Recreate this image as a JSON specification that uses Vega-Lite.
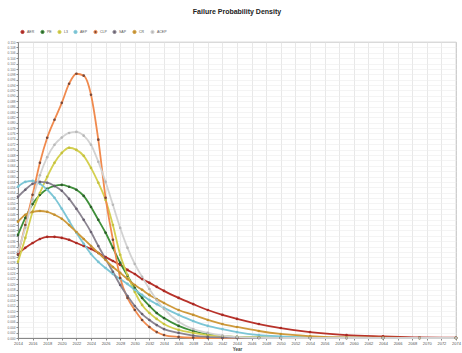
{
"$schema":"https://vega.github.io/schema/vega-lite/v6.json",
"width":438,"height":296,
"autosize":{"type":"none"},
"padding":{"left":18,"top":42,"right":6,"bottom":15},
"background":"#ffffff",
"title":{"text":"Failure Probability Density","fontSize":7,"font":"Liberation Sans","fontWeight":"bold","anchor":"middle","color":"#222222","offset":14},
"data":{"values":[
{"s":"AER","x":2014,"v":0.0312},{"s":"AER","x":2015,"v":0.0335},{"s":"AER","x":2016,"v":0.0353},{"s":"AER","x":2017,"v":0.0368},{"s":"AER","x":2018,"v":0.0376},{"s":"AER","x":2019,"v":0.0376},{"s":"AER","x":2020,"v":0.0372},{"s":"AER","x":2021,"v":0.0365},{"s":"AER","x":2022,"v":0.0353},{"s":"AER","x":2023,"v":0.0342},{"s":"AER","x":2024,"v":0.0331},{"s":"AER","x":2025,"v":0.0316},{"s":"AER","x":2026,"v":0.0301},{"s":"AER","x":2027,"v":0.0286},{"s":"AER","x":2028,"v":0.0272},{"s":"AER","x":2029,"v":0.0253},{"s":"AER","x":2030,"v":0.0238},{"s":"AER","x":2031,"v":0.0219},{"s":"AER","x":2032,"v":0.0205},{"s":"AER","x":2033,"v":0.0190},{"s":"AER","x":2034,"v":0.0175},{"s":"AER","x":2036,"v":0.0149},{"s":"AER","x":2038,"v":0.0126},{"s":"AER","x":2040,"v":0.0104},{"s":"AER","x":2042,"v":0.0086},{"s":"AER","x":2044,"v":0.0071},{"s":"AER","x":2047,"v":0.0052},{"s":"AER","x":2050,"v":0.0037},{"s":"AER","x":2054,"v":0.0022},{"s":"AER","x":2059,"v":0.0011},{"s":"AER","x":2064,"v":0.0006},{"s":"AER","x":2069,"v":0.0002},{"s":"AER","x":2074,"v":0.0001},
{"s":"PE","x":2014,"v":0.0383},{"s":"PE","x":2015,"v":0.0446},{"s":"PE","x":2016,"v":0.0498},{"s":"PE","x":2017,"v":0.0532},{"s":"PE","x":2018,"v":0.0554},{"s":"PE","x":2019,"v":0.0565},{"s":"PE","x":2020,"v":0.0569},{"s":"PE","x":2021,"v":0.0562},{"s":"PE","x":2022,"v":0.0551},{"s":"PE","x":2023,"v":0.0528},{"s":"PE","x":2024,"v":0.0487},{"s":"PE","x":2025,"v":0.0439},{"s":"PE","x":2026,"v":0.0391},{"s":"PE","x":2027,"v":0.0335},{"s":"PE","x":2028,"v":0.0279},{"s":"PE","x":2029,"v":0.0231},{"s":"PE","x":2030,"v":0.0186},{"s":"PE","x":2031,"v":0.0149},{"s":"PE","x":2032,"v":0.0119},{"s":"PE","x":2033,"v":0.0093},{"s":"PE","x":2034,"v":0.0074},{"s":"PE","x":2036,"v":0.0045},{"s":"PE","x":2038,"v":0.0026},{"s":"PE","x":2040,"v":0.0015},{"s":"PE","x":2042,"v":0.0007},{"s":"PE","x":2044,"v":0.0004},{"s":"PE","x":2047,"v":0.0002},{"s":"PE","x":2050,"v":0.0001},{"s":"PE","x":2054,"v":0.0001},{"s":"PE","x":2059,"v":0},{"s":"PE","x":2064,"v":0},{"s":"PE","x":2069,"v":0},{"s":"PE","x":2074,"v":0},
{"s":"L3","x":2014,"v":0.0283},{"s":"L3","x":2015,"v":0.0372},{"s":"L3","x":2016,"v":0.0469},{"s":"L3","x":2017,"v":0.0539},{"s":"L3","x":2018,"v":0.0599},{"s":"L3","x":2019,"v":0.0651},{"s":"L3","x":2020,"v":0.0688},{"s":"L3","x":2021,"v":0.0707},{"s":"L3","x":2022,"v":0.0699},{"s":"L3","x":2023,"v":0.0677},{"s":"L3","x":2024,"v":0.0632},{"s":"L3","x":2025,"v":0.0577},{"s":"L3","x":2026,"v":0.0513},{"s":"L3","x":2027,"v":0.0420},{"s":"L3","x":2028,"v":0.0309},{"s":"L3","x":2029,"v":0.0234},{"s":"L3","x":2030,"v":0.0171},{"s":"L3","x":2031,"v":0.0123},{"s":"L3","x":2032,"v":0.0093},{"s":"L3","x":2033,"v":0.0071},{"s":"L3","x":2034,"v":0.0052},{"s":"L3","x":2036,"v":0.0030},{"s":"L3","x":2038,"v":0.0019},{"s":"L3","x":2040,"v":0.0011},{"s":"L3","x":2042,"v":0.0007},{"s":"L3","x":2044,"v":0.0004},{"s":"L3","x":2047,"v":0.0002},{"s":"L3","x":2050,"v":0.0001},{"s":"L3","x":2054,"v":0.0001},{"s":"L3","x":2059,"v":0},{"s":"L3","x":2064,"v":0},{"s":"L3","x":2069,"v":0},{"s":"L3","x":2074,"v":0},
{"s":"AEP","x":2014,"v":0.0562},{"s":"AEP","x":2015,"v":0.0580},{"s":"AEP","x":2016,"v":0.0584},{"s":"AEP","x":2017,"v":0.0573},{"s":"AEP","x":2018,"v":0.0551},{"s":"AEP","x":2019,"v":0.0521},{"s":"AEP","x":2020,"v":0.0480},{"s":"AEP","x":2021,"v":0.0435},{"s":"AEP","x":2022,"v":0.0391},{"s":"AEP","x":2023,"v":0.0350},{"s":"AEP","x":2024,"v":0.0312},{"s":"AEP","x":2025,"v":0.0283},{"s":"AEP","x":2026,"v":0.0260},{"s":"AEP","x":2027,"v":0.0238},{"s":"AEP","x":2028,"v":0.0219},{"s":"AEP","x":2029,"v":0.0201},{"s":"AEP","x":2030,"v":0.0179},{"s":"AEP","x":2031,"v":0.0160},{"s":"AEP","x":2032,"v":0.0141},{"s":"AEP","x":2033,"v":0.0126},{"s":"AEP","x":2034,"v":0.0112},{"s":"AEP","x":2036,"v":0.0086},{"s":"AEP","x":2038,"v":0.0063},{"s":"AEP","x":2040,"v":0.0045},{"s":"AEP","x":2042,"v":0.0033},{"s":"AEP","x":2044,"v":0.0022},{"s":"AEP","x":2047,"v":0.0011},{"s":"AEP","x":2050,"v":0.0006},{"s":"AEP","x":2054,"v":0.0002},{"s":"AEP","x":2059,"v":0.0001},{"s":"AEP","x":2064,"v":0},{"s":"AEP","x":2069,"v":0},{"s":"AEP","x":2074,"v":0},
{"s":"CLP","x":2014,"v":0.0309},{"s":"CLP","x":2015,"v":0.0420},{"s":"CLP","x":2016,"v":0.0532},{"s":"CLP","x":2017,"v":0.0651},{"s":"CLP","x":2018,"v":0.0744},{"s":"CLP","x":2019,"v":0.0811},{"s":"CLP","x":2020,"v":0.0874},{"s":"CLP","x":2021,"v":0.0945},{"s":"CLP","x":2022,"v":0.0982},{"s":"CLP","x":2023,"v":0.0975},{"s":"CLP","x":2024,"v":0.0904},{"s":"CLP","x":2025,"v":0.0737},{"s":"CLP","x":2026,"v":0.0521},{"s":"CLP","x":2027,"v":0.0365},{"s":"CLP","x":2028,"v":0.0223},{"s":"CLP","x":2029,"v":0.0149},{"s":"CLP","x":2030,"v":0.0104},{"s":"CLP","x":2031,"v":0.0067},{"s":"CLP","x":2032,"v":0.0041},{"s":"CLP","x":2033,"v":0.0022},{"s":"CLP","x":2034,"v":0.0011},{"s":"CLP","x":2036,"v":0.0004},{"s":"CLP","x":2038,"v":0.0001},{"s":"CLP","x":2040,"v":0},{"s":"CLP","x":2042,"v":0},{"s":"CLP","x":2044,"v":0},{"s":"CLP","x":2047,"v":0},{"s":"CLP","x":2050,"v":0},{"s":"CLP","x":2054,"v":0},{"s":"CLP","x":2059,"v":0},{"s":"CLP","x":2064,"v":0},{"s":"CLP","x":2069,"v":0},{"s":"CLP","x":2074,"v":0},
{"s":"SAP","x":2014,"v":0.0525},{"s":"SAP","x":2015,"v":0.0551},{"s":"SAP","x":2016,"v":0.0573},{"s":"SAP","x":2017,"v":0.0580},{"s":"SAP","x":2018,"v":0.0577},{"s":"SAP","x":2019,"v":0.0565},{"s":"SAP","x":2020,"v":0.0547},{"s":"SAP","x":2021,"v":0.0517},{"s":"SAP","x":2022,"v":0.0480},{"s":"SAP","x":2023,"v":0.0439},{"s":"SAP","x":2024,"v":0.0394},{"s":"SAP","x":2025,"v":0.0342},{"s":"SAP","x":2026,"v":0.0294},{"s":"SAP","x":2027,"v":0.0246},{"s":"SAP","x":2028,"v":0.0197},{"s":"SAP","x":2029,"v":0.0156},{"s":"SAP","x":2030,"v":0.0119},{"s":"SAP","x":2031,"v":0.0089},{"s":"SAP","x":2032,"v":0.0067},{"s":"SAP","x":2033,"v":0.0048},{"s":"SAP","x":2034,"v":0.0033},{"s":"SAP","x":2036,"v":0.0019},{"s":"SAP","x":2038,"v":0.0009},{"s":"SAP","x":2040,"v":0.0004},{"s":"SAP","x":2042,"v":0.0002},{"s":"SAP","x":2044,"v":0.0001},{"s":"SAP","x":2047,"v":0},{"s":"SAP","x":2050,"v":0},{"s":"SAP","x":2054,"v":0},{"s":"SAP","x":2059,"v":0},{"s":"SAP","x":2064,"v":0},{"s":"SAP","x":2069,"v":0},{"s":"SAP","x":2074,"v":0},
{"s":"CR","x":2014,"v":0.0432},{"s":"CR","x":2015,"v":0.0458},{"s":"CR","x":2016,"v":0.0469},{"s":"CR","x":2017,"v":0.0472},{"s":"CR","x":2018,"v":0.0469},{"s":"CR","x":2019,"v":0.0458},{"s":"CR","x":2020,"v":0.0443},{"s":"CR","x":2021,"v":0.0420},{"s":"CR","x":2022,"v":0.0394},{"s":"CR","x":2023,"v":0.0368},{"s":"CR","x":2024,"v":0.0342},{"s":"CR","x":2025,"v":0.0316},{"s":"CR","x":2026,"v":0.0290},{"s":"CR","x":2027,"v":0.0264},{"s":"CR","x":2028,"v":0.0242},{"s":"CR","x":2029,"v":0.0219},{"s":"CR","x":2030,"v":0.0197},{"s":"CR","x":2031,"v":0.0179},{"s":"CR","x":2032,"v":0.0160},{"s":"CR","x":2033,"v":0.0145},{"s":"CR","x":2034,"v":0.0130},{"s":"CR","x":2036,"v":0.0104},{"s":"CR","x":2038,"v":0.0086},{"s":"CR","x":2040,"v":0.0067},{"s":"CR","x":2042,"v":0.0052},{"s":"CR","x":2044,"v":0.0041},{"s":"CR","x":2047,"v":0.0026},{"s":"CR","x":2050,"v":0.0015},{"s":"CR","x":2054,"v":0.0007},{"s":"CR","x":2059,"v":0.0002},{"s":"CR","x":2064,"v":0.0001},{"s":"CR","x":2069,"v":0},{"s":"CR","x":2074,"v":0},
{"s":"ACEP","x":2014,"v":0.0320},{"s":"ACEP","x":2015,"v":0.0410},{"s":"ACEP","x":2016,"v":0.0515},{"s":"ACEP","x":2017,"v":0.0605},{"s":"ACEP","x":2018,"v":0.0672},{"s":"ACEP","x":2019,"v":0.0718},{"s":"ACEP","x":2020,"v":0.0745},{"s":"ACEP","x":2021,"v":0.0762},{"s":"ACEP","x":2022,"v":0.0766},{"s":"ACEP","x":2023,"v":0.0752},{"s":"ACEP","x":2024,"v":0.0718},{"s":"ACEP","x":2025,"v":0.0655},{"s":"ACEP","x":2026,"v":0.0580},{"s":"ACEP","x":2027,"v":0.0495},{"s":"ACEP","x":2028,"v":0.0409},{"s":"ACEP","x":2029,"v":0.0335},{"s":"ACEP","x":2030,"v":0.0275},{"s":"ACEP","x":2031,"v":0.0227},{"s":"ACEP","x":2032,"v":0.0182},{"s":"ACEP","x":2033,"v":0.0141},{"s":"ACEP","x":2034,"v":0.0108},{"s":"ACEP","x":2036,"v":0.0060},{"s":"ACEP","x":2038,"v":0.0033},{"s":"ACEP","x":2040,"v":0.0019},{"s":"ACEP","x":2042,"v":0.0009},{"s":"ACEP","x":2044,"v":0.0004},{"s":"ACEP","x":2047,"v":0.0001},{"s":"ACEP","x":2050,"v":0},{"s":"ACEP","x":2054,"v":0},{"s":"ACEP","x":2059,"v":0},{"s":"ACEP","x":2064,"v":0},{"s":"ACEP","x":2069,"v":0},{"s":"ACEP","x":2074,"v":0}
]},
"layer":[
{"mark":{"type":"line","strokeWidth":1.8,"interpolate":"monotone"},
 "encoding":{
  "x":{"field":"x","type":"quantitative","scale":{"domain":[2014,2074],"nice":false,"zero":false},
       "axis":{"values":[2014,2016,2018,2020,2022,2024,2026,2028,2030,2032,2034,2036,2038,2040,2042,2044,2046,2048,2050,2052,2054,2056,2058,2060,2062,2064,2066,2068,2070,2072,2074],"tickCount":200,"format":"d","title":"Year","labelFontSize":4,"labelOverlap":false,"labelBound":false,"labelFlush":false,"titleFontSize":4.5,"titlePadding":1,"tickSize":2,"labelPadding":1,"gridColor":"#d8d8d8","gridWidth":0.6,"labelColor":"#555555","titleColor":"#444444","domainColor":"#888888","tickColor":"#888888"}},
  "y":{"field":"v","type":"quantitative","scale":{"domain":[0,0.11],"nice":false},
       "axis":{"values":[0,0.002,0.004,0.006,0.008,0.01,0.012,0.014,0.016,0.018,0.02,0.022,0.024,0.026,0.028,0.03,0.032,0.034,0.036,0.038,0.04,0.042,0.044,0.046,0.048,0.05,0.052,0.054,0.056,0.058,0.06,0.062,0.064,0.066,0.068,0.07,0.072,0.074,0.076,0.078,0.08,0.082,0.084,0.086,0.088,0.09,0.092,0.094,0.096,0.098,0.1,0.102,0.104,0.106,0.108,0.11],"tickCount":200,"format":".3f","title":null,"labelFontSize":3.2,"labelOverlap":false,"labelBound":false,"labelFlush":false,"tickSize":2,"labelPadding":1,"gridColor":"#ececec","gridWidth":0.6,"labelColor":"#666666","domainColor":"#888888","tickColor":"#888888"}},
  "stroke":{"field":"s","type":"nominal","scale":{"domain":["AER","PE","L3","AEP","CLP","SAP","CR","ACEP"],"range":["#b8322a","#3f8f3a","#d4d050","#7cc6d6","#f08a4e","#8a8490","#cf9a3c","#d2d2d2"]},
   "legend":{"orient":"none","legendX":2,"legendY":-13,"direction":"horizontal","title":null,"labelFontSize":3.5,"labelColor":"#555555","symbolSize":10,"symbolType":"circle","columnPadding":3,"labelOffset":2,"symbolStrokeWidth":1}}
 }},
{"mark":{"type":"point","filled":true,"size":7,"opacity":1},
 "encoding":{
  "x":{"field":"x","type":"quantitative"},
  "y":{"field":"v","type":"quantitative"},
  "fill":{"field":"s","type":"nominal","scale":{"domain":["AER","PE","L3","AEP","CLP","SAP","CR","ACEP"],"range":["#a82a24","#2e5e2c","#c4c040","#78c2d2","#7a4838","#6a6272","#c29030","#b8b8b8"]},
   "legend":{"orient":"none","legendX":2,"legendY":-13,"direction":"horizontal","title":null,"labelFontSize":3.5,"labelColor":"#555555","symbolSize":10,"symbolType":"circle","columnPadding":3,"labelOffset":2,"symbolStrokeWidth":1}}
 }}
],
"config":{"view":{"stroke":"#999999","strokeWidth":0.8},"font":"Liberation Sans","axis":{"labelFont":"Liberation Sans"}}
}
